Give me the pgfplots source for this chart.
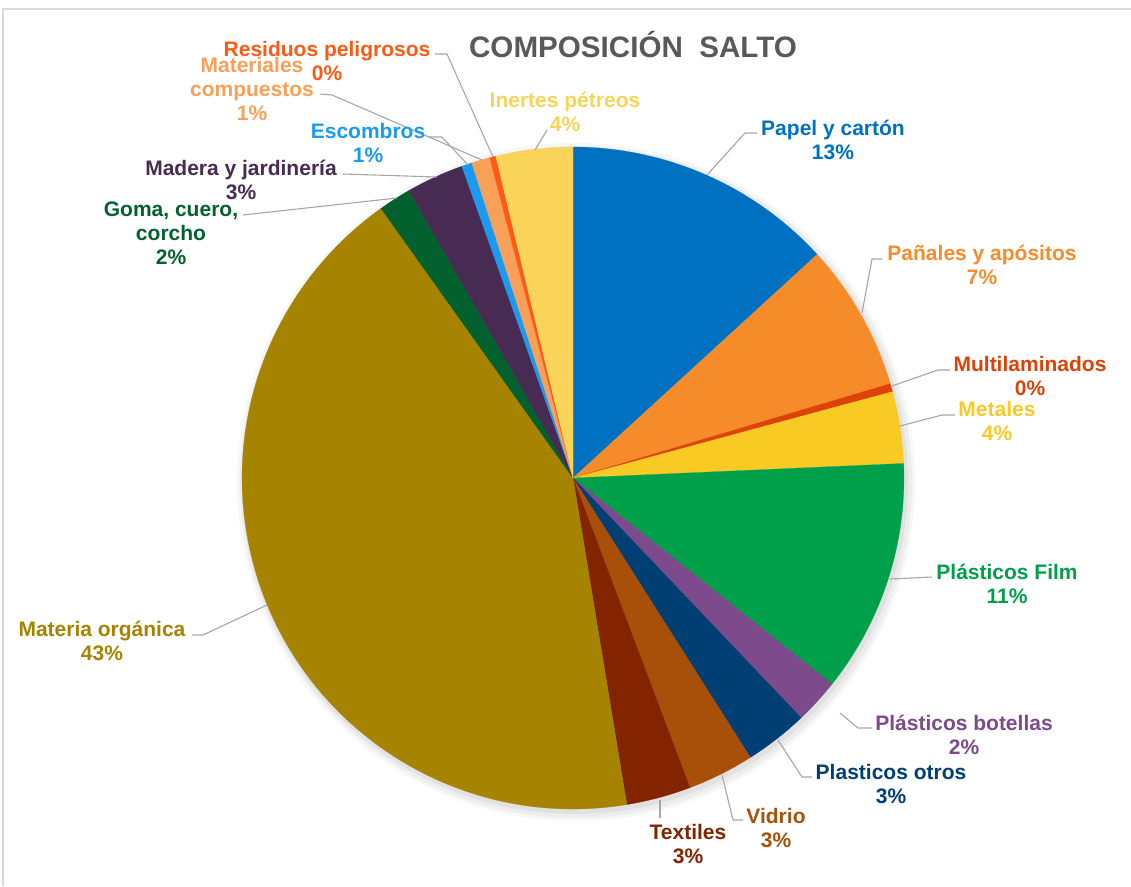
\documentclass[border=0pt]{standalone}
\usepackage{pgfplots}
\usepackage{pgfplotstable}
\pgfplotsset{compat=1.18}
\usepackage{fontspec}
\setmainfont{Liberation Sans}

\definecolor{cPapel}{HTML}{0070C0}
\definecolor{cPanal}{HTML}{F68B2A}
\definecolor{cMulti}{HTML}{DD4208}
\definecolor{cMetal}{HTML}{F9C924}
\definecolor{cFilm}{HTML}{00A04B}
\definecolor{cBot}{HTML}{7D4A8C}
\definecolor{cOtros}{HTML}{003F74}
\definecolor{cVidrio}{HTML}{A8500A}
\definecolor{cText}{HTML}{832300}
\definecolor{cOrg}{HTML}{A68300}
\definecolor{cGoma}{HTML}{03602F}
\definecolor{cMadera}{HTML}{472B52}
\definecolor{cEsc}{HTML}{1A9AF2}
\definecolor{cComp}{HTML}{F8A057}
\definecolor{cRes}{HTML}{FF5A14}
\definecolor{cIner}{HTML}{F9D458}
\definecolor{leader}{HTML}{A6A6A6}
\definecolor{titlegray}{HTML}{595959}
\definecolor{frame}{HTML}{D9D9D9}

% percentages, clockwise from 12 o'clock
\pgfplotstableread{
value color
13.2  cPapel
7.2   cPanal
0.4   cMulti
3.5   cMetal
11.4  cFilm
2.2   cBot
3.1   cOtros
3.25  cVidrio
3.15  cText
42.75 cOrg
1.6   cGoma
2.8   cMadera
0.5   cEsc
0.9   cComp
0.3   cRes
3.75  cIner
}\piedata

\tikzset{lbl/.style={align=center, font=\bfseries\fontsize{21}{24}\selectfont},
         ld/.style={leader, line width=1.1pt}}

\begin{document}
\begin{tikzpicture}
\pgfplotstablegetrowsof{\piedata}
\pgfmathtruncatemacro\lastrow{\pgfplotsretval-1}
\begin{axis}[
    x=1pt, y=1pt,
    xmin=0, xmax=1131, ymin=0, ymax=886,
    y dir=reverse,
    hide axis, clip=false,
]
    % frame
    \draw[frame, line width=1.5pt] (axis cs:3,886) -- (axis cs:3,9) -- (axis cs:1131,9);
    % soft shadow
    \fill[black, opacity=0.03] (axis cs:576,482) circle[radius=339pt];
    \fill[black, opacity=0.04] (axis cs:576,482) circle[radius=336pt];
    \fill[black, opacity=0.05] (axis cs:575,481) circle[radius=333pt];

    \def\cum{0}
    \pgfplotsforeachungrouped \i in {0,...,\lastrow}{%
        \pgfplotstablegetelem{\i}{value}\of\piedata
        \let\val\pgfplotsretval
        \pgfplotstablegetelem{\i}{color}\of\piedata
        \let\col\pgfplotsretval
        \pgfmathsetmacro\angA{90-3.6*\cum}
        \pgfmathsetmacro\angB{90-3.6*(\cum+\val)}
        \edef\slice{\noexpand\fill[\col, draw=\col, line width=0.2pt] (axis cs:573,478) -- ++(\angA:331pt)
            arc[start angle=\angA, end angle=\angB, radius=331pt] -- cycle;}
        \slice
        \pgfmathsetmacro\cum{\cum+\val}
    }

    % title
    \node[font=\bfseries\fontsize{29.6}{33}\selectfont, text=titlegray] at (axis cs:633,45) {COMPOSICIÓN\ \ SALTO};

    % leader lines
    \draw[ld] (axis cs:707,175) -- (axis cs:745,133) -- (axis cs:757,133);
    \draw[ld] (axis cs:862,313) -- (axis cs:872,259) -- (axis cs:882,259);
    \draw[ld] (axis cs:892,386) -- (axis cs:938,370) -- (axis cs:950,370);
    \draw[ld] (axis cs:900,426) -- (axis cs:942,415) -- (axis cs:955,415);
    \draw[ld] (axis cs:890,579) -- (axis cs:932,577);
    \draw[ld] (axis cs:840,713) -- (axis cs:858,728) -- (axis cs:872,728);
    \draw[ld] (axis cs:778,740) -- (axis cs:802,777) -- (axis cs:812,777);
    \draw[ld] (axis cs:722,775) -- (axis cs:733,820) -- (axis cs:743,820);
    \draw[ld] (axis cs:660,800) -- (axis cs:660,818);
    \draw[ld] (axis cs:267,605) -- (axis cs:203,635) -- (axis cs:192,635);
    \draw[ld] (axis cs:397,198) -- (axis cs:243,215);
    \draw[ld] (axis cs:437,177) -- (axis cs:343,174);
    \draw[ld] (axis cs:468,165) -- (axis cs:442,137) -- (axis cs:428,137);
    \draw[ld] (axis cs:482,160) -- (axis cs:332,95) -- (axis cs:320,94);
    \draw[ld] (axis cs:493,157) -- (axis cs:447,54) -- (axis cs:435,54);
    \draw[ld] (axis cs:535,150) -- (axis cs:547,130);

    % labels
    \node[lbl, text=cPapel]  at (axis cs:833,139.5) {Papel y cartón\\13\%};
    \node[lbl, text=cPanal]  at (axis cs:982,265)   {Pañales y apósitos\\7\%};
    \node[lbl, text=cMulti]  at (axis cs:1030,375.5){Multilaminados\\0\%};
    \node[lbl, text=cMetal]  at (axis cs:997,420.5) {Metales\\4\%};
    \node[lbl, text=cFilm]   at (axis cs:1007,583.5){Plásticos Film\\11\%};
    \node[lbl, text=cBot]    at (axis cs:964,734.5) {Plásticos botellas\\2\%};
    \node[lbl, text=cOtros]  at (axis cs:891,783.5) {Plasticos otros\\3\%};
    \node[lbl, text=cVidrio] at (axis cs:776,827.5) {Vidrio\\3\%};
    \node[lbl, text=cText]   at (axis cs:688,843.5) {Textiles\\3\%};
    \node[lbl, text=cOrg]    at (axis cs:102,640.5) {Materia orgánica\\43\%};
    \node[lbl, text=cGoma]   at (axis cs:171,233.5) {Goma, cuero,\\corcho\\2\%};
    \node[lbl, text=cMadera] at (axis cs:241,180)   {Madera y jardinería\\3\%};
    \node[lbl, text=cEsc]    at (axis cs:368,143)   {Escombros\\1\%};
    \node[lbl, text=cComp]   at (axis cs:252,89)    {Materiales\\compuestos\\1\%};
    \node[lbl, text=cRes]    at (axis cs:327,61)    {Residuos peligrosos\\0\%};
    \node[lbl, text=cIner]   at (axis cs:565,112)   {Inertes pétreos\\4\%};
\end{axis}
\pgfresetboundingbox
\useasboundingbox (current axis.south west) rectangle (current axis.north east);
\end{tikzpicture}
\end{document}
